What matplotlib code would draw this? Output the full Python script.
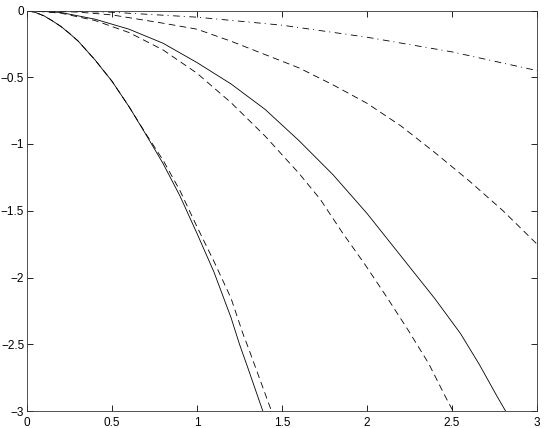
import matplotlib
matplotlib.use("Agg")
import matplotlib.pyplot as plt

plt.rcParams['font.family'] = ['Liberation Sans', 'DejaVu Sans']
plt.rcParams['lines.scale_dashes'] = False

# curves
x_dashdot = [0, 0.5, 1.0, 1.5, 2.0, 2.5, 3.0]
y_dashdot = [0, -0.013, -0.05, -0.11, -0.2, -0.31, -0.45]

x_dash_top = [0, 0.3, 0.5, 0.8, 1.0, 1.2, 1.4, 1.6, 1.8, 2.0, 2.2, 2.4, 2.6, 2.8, 3.0]
y_dash_top = [0, -0.012, -0.033, -0.095, -0.14, -0.23, -0.33, -0.43, -0.557, -0.695,
              -0.865, -1.065, -1.275, -1.50, -1.75]

x_solid_mid = [0, 0.2, 0.4, 0.6, 0.8, 1.0, 1.2, 1.4, 1.6, 1.8, 2.0, 2.2, 2.4,
               2.55, 2.66, 2.765, 2.815]
y_solid_mid = [0, -0.015, -0.065, -0.14, -0.245, -0.39, -0.55, -0.74, -0.975,
               -1.23, -1.52, -1.84, -2.16, -2.42, -2.65, -2.89, -3.0]

x_dash_mid = [0, 0.2, 0.4, 0.6, 0.8, 1.0, 1.2, 1.4, 1.6, 1.725, 1.853, 1.99,
              2.118, 2.245, 2.363, 2.46, 2.506]
y_dash_mid = [0, -0.02, -0.075, -0.165, -0.295, -0.47, -0.69, -0.94, -1.22,
              -1.414, -1.66, -1.906, -2.15, -2.40, -2.645, -2.89, -3.0]

x_solid_left = [0, 0.05, 0.1, 0.15, 0.2, 0.25, 0.3, 0.4, 0.5, 0.6, 0.7, 0.8,
                0.9, 1.0, 1.1, 1.2, 1.25, 1.3, 1.387]
y_solid_left = [0, -0.015, -0.04, -0.078, -0.12, -0.172, -0.228, -0.37, -0.53,
                -0.72, -0.93, -1.145, -1.39, -1.67, -1.96, -2.30, -2.50, -2.68, -3.0]

x_dash_left = [0, 0.05, 0.1, 0.15, 0.2, 0.25, 0.3, 0.4, 0.5, 0.6, 0.7, 0.8,
               0.9, 1.0, 1.1, 1.2, 1.27, 1.3, 1.438]
y_dash_left = [0, -0.015, -0.04, -0.078, -0.12, -0.172, -0.228, -0.37, -0.53,
               -0.72, -0.925, -1.12, -1.35, -1.62, -1.88, -2.155, -2.42, -2.52, -3.0]

x_ticks = [0, 0.5, 1, 1.5, 2, 2.5, 3]
x_labels = ['0', '0.5', '1', '1.5', '2', '2.5', '3']
y_ticks = [0, -0.5, -1, -1.5, -2, -2.5, -3]
y_labels = ['0', '\u22120.5', '\u22121', '\u22121.5', '\u22122', '\u22122.5', '\u22123']

fig = plt.figure(figsize=(5.45, 4.28), dpi=100)
ax = fig.add_axes([27 / 545, 17 / 428, 510 / 545, 400.5 / 428])

lw = 0.6
dash = (0, (4.8, 3.1))
dashdot = (0, (4.8, 2.9, 0.7, 3.3))

ax.plot(x_dashdot, y_dashdot, color='black', lw=lw, linestyle=dashdot)
ax.plot(x_dash_top, y_dash_top, color='black', lw=lw, linestyle=dash)
ax.plot(x_solid_mid, y_solid_mid, color='black', lw=lw, linestyle='-')
ax.plot(x_dash_mid, y_dash_mid, color='black', lw=lw, linestyle=dash)
ax.plot(x_solid_left, y_solid_left, color='black', lw=lw, linestyle='-')
ax.plot(x_dash_left, y_dash_left, color='black', lw=lw, linestyle=dash)

ax.set_xlim(0, 3)
ax.set_ylim(-3, 0)
ax.set_xticks(x_ticks, x_labels)
ax.set_yticks(y_ticks, y_labels)
ax.tick_params(direction='in', length=4, width=0.6, top=True, right=True,
               labelsize=8.5, pad=2, colors='black')
ax.tick_params(axis='x', pad=4)
for s in ax.spines.values():
    s.set_linewidth(0.6)
    s.set_color('#333333')

fig.savefig('out.png', dpi=100)
